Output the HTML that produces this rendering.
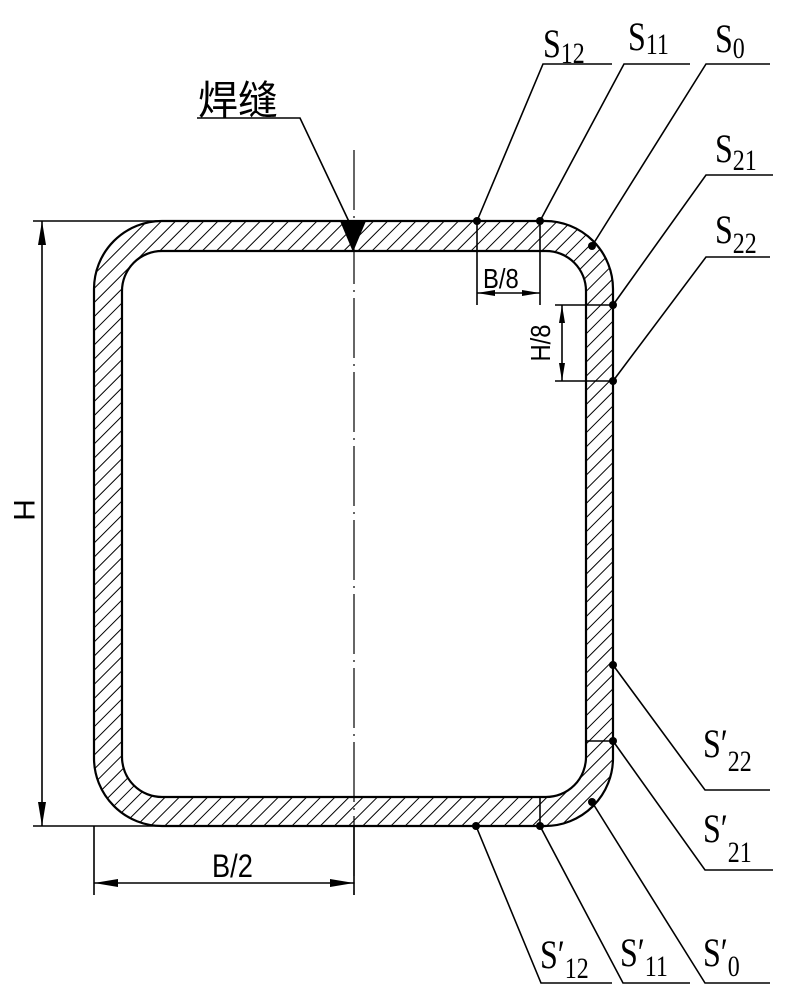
<!DOCTYPE html>
<html><head><meta charset="utf-8"><style>
html,body{margin:0;padding:0;background:#fff}
svg{display:block}
text{font-family:"Liberation Sans","Noto Sans CJK SC",sans-serif;fill:#000}
.s{font-family:"Liberation Serif","Noto Serif CJK SC",serif}
</style></head><body>
<svg width="788" height="1000" viewBox="0 0 788 1000" xmlns="http://www.w3.org/2000/svg">
<defs>
<pattern id="h" patternUnits="userSpaceOnUse" width="10" height="10" patternTransform="rotate(45)">
<line x1="0" y1="0" x2="0" y2="10" stroke="#000" stroke-width="2"/>
</pattern>
</defs>
<g stroke="#000" fill="none" stroke-width="1.6">
<path fill="url(#h)" fill-rule="evenodd" stroke-width="2.2" d="M162,221 H545 A68,68 0 0 1 613,289 V758 A68,68 0 0 1 545,826 H162 A68,68 0 0 1 94,758 V289 A68,68 0 0 1 162,221 Z M162,251 H546 A40,40 0 0 1 586,291 V757 A40,40 0 0 1 546,797 H162 A40,40 0 0 1 122,757 V291 A40,40 0 0 1 162,251 Z"/>
<line x1="540" y1="221" x2="540" y2="251"/>
<line x1="586" y1="305" x2="613" y2="305"/>
<line x1="540" y1="797" x2="540" y2="826"/>
<line x1="586" y1="741" x2="613" y2="741"/>
<line x1="33" y1="221" x2="162" y2="221"/>
<line x1="33" y1="826" x2="162" y2="826"/>
<line x1="94" y1="826" x2="94" y2="895"/>
<line x1="354" y1="826" x2="354" y2="895"/>
<line x1="42" y1="221" x2="42" y2="826"/>
<line x1="94" y1="883" x2="354" y2="883"/>
<line x1="477" y1="221" x2="477" y2="305"/>
<line x1="540" y1="251" x2="540" y2="305"/>
<line x1="477" y1="293" x2="540" y2="293"/>
<line x1="555" y1="305" x2="586" y2="305"/>
<line x1="555" y1="381" x2="613" y2="381"/>
<line x1="562" y1="305" x2="562" y2="381"/>
<line x1="354" y1="150" x2="354" y2="895" stroke-width="1.2" stroke-dasharray="60,6,2,6"/>
<polyline points="197,118 300,118 352,228"/>
<polyline points="477,221 543,64 612,64"/>
<polyline points="540,221 624,64 690,64"/>
<polyline points="592,246 706,64 770,64"/>
<polyline points="613,305 706,175 773,175"/>
<polyline points="613,381 706,257 770,257"/>
<polyline points="613,665 705,790 770,790"/>
<polyline points="613,741 705,870 773,870"/>
<polyline points="592,802 705,983 770,983"/>
<polyline points="540,826 623,983 690,983"/>
<polyline points="476,826 541,983 612,983"/>
</g>
<g fill="#000">
<polygon points="340,221 366,221 353,252"/>
<polygon points="42,221 38,245 46,245"/>
<polygon points="42,826 38,802 46,802"/>
<polygon points="94,883 118,879 118,887"/>
<polygon points="354,883 330,879 330,887"/>
<polygon points="477,293 495,290 495,296"/>
<polygon points="540,293 522,290 522,296"/>
<polygon points="562,305 559,323 565,323"/>
<polygon points="562,381 559,363 565,363"/>
<circle cx="477" cy="221" r="4"/><circle cx="540" cy="221" r="4"/><circle cx="592" cy="246" r="4"/>
<circle cx="613" cy="305" r="4"/><circle cx="613" cy="381" r="4"/>
<circle cx="613" cy="665" r="4"/><circle cx="613" cy="741" r="4"/><circle cx="592" cy="802" r="4"/>
<circle cx="540" cy="826" r="4"/><circle cx="476" cy="826" r="4"/>
</g>
<text x="198" y="114" font-size="40">焊缝</text>
<text x="0" y="0" font-size="32" transform="translate(212,877) scale(0.85,1)">B/2</text>
<text x="0" y="0" font-size="28" transform="translate(483,288) scale(0.85,1)">B/8</text>
<text x="0" y="0" font-size="28" transform="translate(550,343) rotate(-90) scale(0.85,1)" text-anchor="middle">H/8</text>
<text x="0" y="0" font-size="30" transform="translate(14,510) rotate(90)" text-anchor="middle">H</text>
<g class="s" font-size="40">
<text x="0" y="0" transform="translate(543,57) scale(0.8,1)" class="s">S<tspan font-size="30" dy="6">12</tspan></text>
<text x="0" y="0" transform="translate(628,50) scale(0.8,1)" class="s">S<tspan font-size="30" dy="4">11</tspan></text>
<text x="0" y="0" transform="translate(715,52) scale(0.8,1)" class="s">S<tspan font-size="30" dy="6">0</tspan></text>
<text x="0" y="0" transform="translate(715,162) scale(0.8,1)" class="s">S<tspan font-size="30" dy="8">21</tspan></text>
<text x="0" y="0" transform="translate(715,243) scale(0.8,1)" class="s">S<tspan font-size="30" dy="10">22</tspan></text>
<text x="0" y="0" transform="translate(703,757) scale(0.8,1)" class="s">S′<tspan font-size="30" dy="14">22</tspan></text>
<text x="0" y="0" transform="translate(703,842) scale(0.8,1)" class="s">S′<tspan font-size="30" dy="20">21</tspan></text>
<text x="0" y="0" transform="translate(540,968) scale(0.8,1)" class="s">S′<tspan font-size="30" dy="10">12</tspan></text>
<text x="0" y="0" transform="translate(620,966) scale(0.8,1)" class="s">S′<tspan font-size="30" dy="10">11</tspan></text>
<text x="0" y="0" transform="translate(703,966) scale(0.8,1)" class="s">S′<tspan font-size="30" dy="10">0</tspan></text>
</g>
</svg>
</body></html>
